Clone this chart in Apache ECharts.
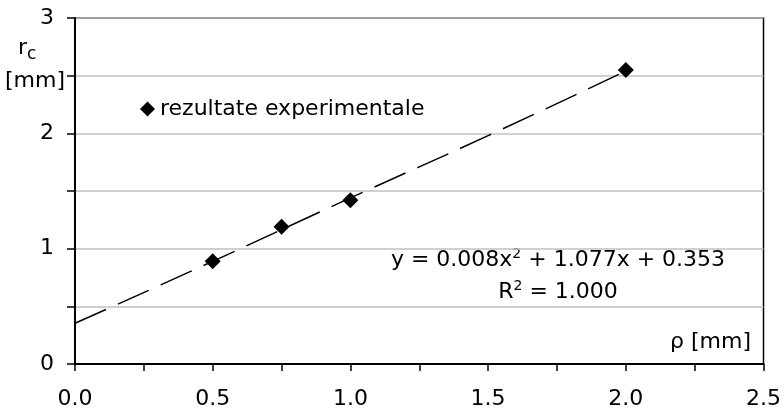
<!DOCTYPE html>
<html>
<head>
<meta charset="utf-8">
<script src="https://cdn.jsdelivr.net/npm/echarts@6/dist/echarts.min.js"></script>
<style>html,body{margin:0;padding:0;background:#fff;}#c{width:784px;height:410px;}</style>
</head>
<body>
<div id="c"></div>
<script>
// Data
const rhoValues = [0.5, 0.75, 1.0, 2.0];
const rcValues = [0.89, 1.19, 1.42, 2.55];
const trendX = [0.0, 0.5, 1.0, 1.5, 2.0];
const trendY = [0.353, 0.89, 1.44, 1.98, 2.54];
const seriesName = 'rezultate experimentale';

const FONT = 'DejaVu Sans';
const FS = 22;

const chart = echarts.init(document.getElementById('c'), null, {renderer: 'canvas'});
const option = {
  animation: false,
  backgroundColor: '#fff',
  grid: {left: 75, top: 18, right: 20, bottom: 46, show: true, borderColor: '#000', borderWidth: 1.5, backgroundColor: 'transparent'},
  legend: {
    data: [{name: seriesName, icon: 'diamond', itemStyle: {color: '#000', opacity: 1}}],
    left: 135, top: 93,
    itemWidth: 15, itemHeight: 15, itemGap: 4,
    textStyle: {fontFamily: FONT, fontSize: FS, color: '#000'}
  },
  xAxis: {
    type: 'value', min: 0, max: 2.5, interval: 0.25,
    axisLine: {show: true, onZero: false, lineStyle: {color: '#000', width: 2}},
    axisTick: {show: true, length: 7, lineStyle: {color: '#000', width: 1.5}},
    splitLine: {show: false},
    axisLabel: {
      margin: 24, color: '#000', fontFamily: FONT, fontSize: FS,
      formatter: v => (Math.abs(v * 2 - Math.round(v * 2)) < 1e-6) ? v.toFixed(1) : ''
    }
  },
  yAxis: {
    type: 'value', min: 0, max: 3, interval: 0.5,
    axisLine: {show: true, onZero: false, lineStyle: {color: '#000', width: 2}},
    axisTick: {show: true, length: 8, lineStyle: {color: '#000', width: 1.5}},
    splitLine: {show: true, lineStyle: {color: '#c0c0c0', width: 1.5}},
    axisLabel: {
      margin: 21, color: '#000', fontFamily: FONT, fontSize: FS,
      formatter: v => (Math.abs(v - Math.round(v)) < 1e-6) ? String(Math.round(v)) : ''
    }
  },
  series: [
    {
      name: 'trend', type: 'line', smooth: true, showSymbol: false, symbol: 'none',
      data: trendX.map((x, i) => [x, trendY[i]]),
      lineStyle: {color: '#000', width: 1.5, type: [34, 13]},
      silent: true, z: 2
    },
    {
      name: seriesName, type: 'scatter', symbol: 'diamond', symbolSize: 16,
      data: rhoValues.map((x, i) => [x, rcValues[i]]),
      itemStyle: {color: '#000', opacity: 1}, z: 3
    }
  ],
  graphic: [
    {type: 'text', left: 18, top: 36, style: {
      text: '{r|r}{c|c}',
      rich: {
        r: {fontFamily: FONT, fontSize: FS, fill: '#000', lineHeight: 26, verticalAlign: 'top'},
        c: {fontFamily: FONT, fontSize: 17, fill: '#000', lineHeight: 26, verticalAlign: 'bottom', padding: [10, 0, 0, 0]}
      }
    }},
    {type: 'text', left: 5, top: 70, style: {text: '[mm]', fontFamily: FONT, fontSize: FS, fill: '#000'}},
    {type: 'text', right: 33, top: 331, style: {text: 'ρ [mm]', fontFamily: FONT, fontSize: FS, fill: '#000'}},
    {type: 'text', x: 558, y: 260, style: {
      text: '{a|y = 0.008x}{s|2}{a| + 1.077x + 0.353}',
      align: 'center', verticalAlign: 'middle',
      rich: {
        a: {fontFamily: FONT, fontSize: FS, fill: '#000', lineHeight: 26},
        s: {fontFamily: FONT, fontSize: 14, fill: '#000', lineHeight: 26, verticalAlign: 'top', padding: [0, 0, 12, 0]}
      }
    }},
    {type: 'text', x: 558, y: 292, style: {
      text: '{a|R}{s|2}{a| = 1.000}',
      align: 'center', verticalAlign: 'middle',
      rich: {
        a: {fontFamily: FONT, fontSize: FS, fill: '#000', lineHeight: 26},
        s: {fontFamily: FONT, fontSize: 14, fill: '#000', lineHeight: 26, verticalAlign: 'top', padding: [0, 0, 12, 0]}
      }
    }}
  ]
};
chart.setOption(option);
</script>
</body>
</html>
